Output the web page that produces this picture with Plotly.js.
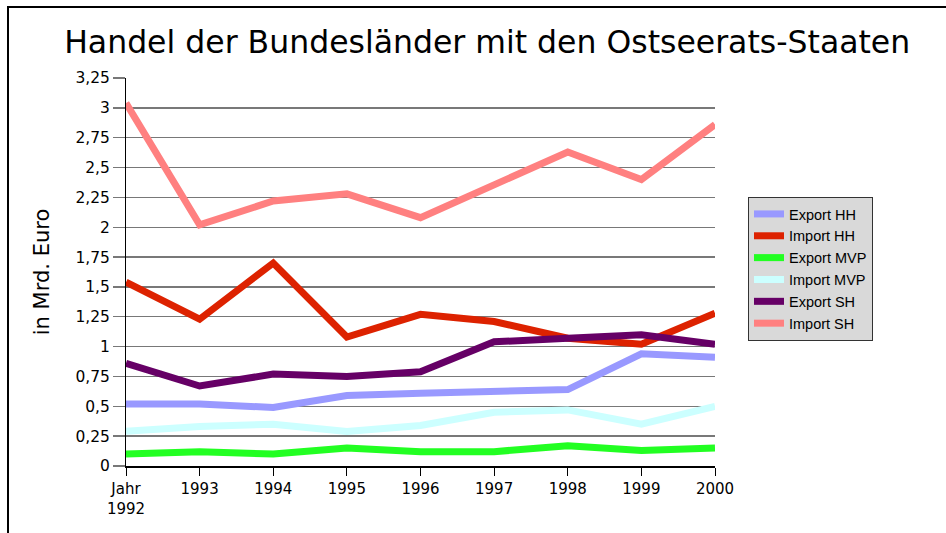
<!DOCTYPE html>
<html>
<head>
<meta charset="utf-8">
<script src="https://cdn.plot.ly/plotly-3.0.1.min.js"></script>
<style>
html,body{margin:0;padding:0;background:#fff;}
#wrap{position:relative;width:946px;height:533px;overflow:hidden;}
#chart{width:946px;height:533px;}
#frame{position:absolute;left:7px;top:6px;width:960px;height:560px;border-left:2px solid #000;border-top:2px solid #000;pointer-events:none;}
</style>
</head>
<body>
<div id="wrap">
<div id="chart"></div>
<div id="frame"></div>
</div>
<script>
const years = [1992, 1993, 1994, 1995, 1996, 1997, 1998, 1999, 2000];
const yearLabels = ['Jahr<br>1992', '1993', '1994', '1995', '1996', '1997', '1998', '1999', '2000'];

const exportHH  = [0.52, 0.52, 0.49, 0.59, 0.61, 0.63, 0.64, 0.94, 0.91];
const importHH  = [1.54, 1.23, 1.70, 1.08, 1.27, 1.21, 1.07, 1.02, 1.28];
const exportMVP = [0.10, 0.12, 0.10, 0.15, 0.12, 0.12, 0.17, 0.13, 0.15];
const importMVP = [0.29, 0.33, 0.35, 0.29, 0.34, 0.45, 0.47, 0.35, 0.50];
const exportSH  = [0.86, 0.67, 0.77, 0.75, 0.79, 1.04, 1.07, 1.10, 1.02];
const importSH  = [3.04, 2.02, 2.22, 2.28, 2.08, 2.35, 2.63, 2.40, 2.86];

const seriesNames = ['Export HH', 'Import HH', 'Export MVP', 'Import MVP', 'Export SH', 'Import SH'];
const seriesValues = [exportHH, importHH, exportMVP, importMVP, exportSH, importSH];
const seriesColors = ['#9999ff', '#dd2200', '#22ff22', '#ccffff', '#660066', '#ff8080'];

const yTicks = [0, 0.25, 0.5, 0.75, 1, 1.25, 1.5, 1.75, 2, 2.25, 2.5, 2.75, 3, 3.25];

const traces = seriesNames.map((n, i) => ({
  type: 'scatter',
  mode: 'lines',
  name: n,
  legendgroup: 'g' + i,
  x: years,
  y: seriesValues[i],
  line: {color: seriesColors[i], width: 7, shape: 'linear'},
  hoverinfo: 'skip'
}));

const layout = {
  width: 946,
  height: 533,
  separators: ',.',
  paper_bgcolor: '#ffffff',
  plot_bgcolor: '#ffffff',
  font: {family: 'DejaVu Sans', color: '#000'},
  margin: {l: 125.7, r: 231.3, t: 77.9, b: 67.3, pad: 0},
  title: {
    text: 'Handel der Bundesländer mit den Ostseerats-Staaten',
    font: {family: 'DejaVu Sans', size: 31.5, color: '#000'},
    xref: 'container', x: 0.515, xanchor: 'center',
    yref: 'container', y: 0.922, yanchor: 'middle'
  },
  xaxis: {
    range: [1992, 2000],
    tickmode: 'array',
    tickvals: years,
    ticktext: yearLabels,
    showgrid: false,
    zeroline: false,
    showline: true,
    linecolor: '#000',
    linewidth: 2,
    ticks: 'outside',
    ticklen: 8,
    tickwidth: 1,
    tickcolor: '#000',
    tickfont: {family: 'DejaVu Sans', size: 15, color: '#000'},
    fixedrange: true
  },
  yaxis: {
    range: [0, 3.25],
    tickmode: 'array',
    tickvals: yTicks,
    showgrid: true,
    gridcolor: '#787878',
    gridwidth: 1.4,
    zeroline: false,
    showline: true,
    linecolor: '#000',
    linewidth: 1,
    ticks: 'outside',
    ticklen: 12,
    tickwidth: 1.4,
    tickcolor: '#787878',
    tickfont: {family: 'DejaVu Sans', size: 15.5, color: '#000'},
    title: {text: 'in Mrd. Euro', font: {family: 'DejaVu Sans', size: 21, color: '#000'}, standoff: 20},
    fixedrange: true
  },
  showlegend: true,
  legend: {
    xref: 'container', yref: 'container',
    x: 748 / 946, xanchor: 'left',
    y: 1 - 197 / 533, yanchor: 'top',
    bgcolor: '#d9d9d9',
    bordercolor: '#333333',
    borderwidth: 1,
    font: {family: 'Liberation Sans', size: 14.5, color: '#000'},
    tracegroupgap: 1,
    itemwidth: 30,
    traceorder: 'normal'
  }
};

Plotly.newPlot('chart', traces, layout, {staticPlot: true, displayModeBar: false});
</script>
</body>
</html>
